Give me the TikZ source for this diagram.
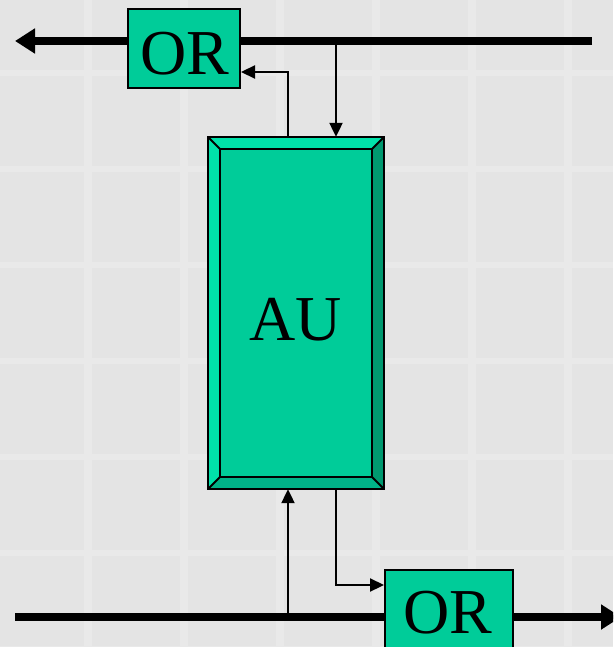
\documentclass[tikz,border=0pt]{standalone}
\usepackage{fontspec}
\setmainfont{Liberation Serif}
\usetikzlibrary{arrows.meta}
\definecolor{bg}{HTML}{E4E4E4}
\definecolor{tile}{HTML}{E9E9E9}
\definecolor{teal}{HTML}{00CC99}
\definecolor{tealL}{HTML}{00E2AA}
\definecolor{tealD}{HTML}{009970}
\definecolor{tealM}{HTML}{00B388}
\tikzset{
  orbox/.style={draw=black, line width=2pt, fill=teal, inner sep=0pt},
  lbl/.style={font=\fontsize{64}{64}\selectfont, inner sep=0pt, anchor=base},
  bus/.style={line width=8pt},
  busarrow/.style={line width=8pt, -{Triangle[length=20pt,width=24pt]}},
  sig/.style={line width=2.2pt, -{Triangle[length=14pt,width=13pt]}},
  bevel/.style={draw=black, line width=1.8pt, line join=miter}
}
\begin{document}
\begin{tikzpicture}[x=1pt,y=-1pt]
\useasboundingbox (0,0) rectangle (613,647);
\clip (0,0) rectangle (613,647);
\fill[bg] (0,0) rectangle (613,647);
\foreach \i in {0,...,6} {
  \fill[tile] (\i*96+84,0) rectangle (\i*96+92,647);
  \fill[tile] (0,\i*96+70) rectangle (613,\i*96+76);
}
% boxes
\node[orbox, minimum width=112pt, minimum height=79pt] (or1) at (184,48.5) {};
\node[lbl] (or1t) at (185,75) {OR};
\node[orbox, minimum width=128pt, minimum height=90pt, anchor=north west] (or2) at (384,569) {};
\node[lbl] (or2t) at (448,633) {OR};
\node[inner sep=0pt, minimum width=176pt, minimum height=352pt] (au) at (296,313) {};
% AU bevel box
\fill[tealL] (au.north west) -- (au.north east) -- ([shift={(-12,12)}]au.north east) -- ([shift={(12,12)}]au.north west) -- cycle;
\fill[tealL] (au.north west) -- ([shift={(12,12)}]au.north west) -- ([shift={(12,-12)}]au.south west) -- (au.south west) -- cycle;
\fill[tealD] (au.north east) -- (au.south east) -- ([shift={(-12,-12)}]au.south east) -- ([shift={(-12,12)}]au.north east) -- cycle;
\fill[tealM] (au.south west) -- ([shift={(12,-12)}]au.south west) -- ([shift={(-12,-12)}]au.south east) -- (au.south east) -- cycle;
\fill[teal] ([shift={(12,12)}]au.north west) rectangle ([shift={(-12,-12)}]au.south east);
\draw[bevel] (au.north west) rectangle (au.south east);
\draw[bevel] ([shift={(12,12)}]au.north west) rectangle ([shift={(-12,-12)}]au.south east);
\draw[bevel] (au.north west) -- ([shift={(12,12)}]au.north west);
\draw[bevel] (au.north east) -- ([shift={(-12,12)}]au.north east);
\draw[bevel] (au.south west) -- ([shift={(12,-12)}]au.south west);
\draw[bevel] (au.south east) -- ([shift={(-12,-12)}]au.south east);
\node[lbl] (aut) at (296,340) {AU};
% top bus
\coordinate (tr) at (592,41);
\coordinate (tl) at (15,41);
\coordinate (j1) at (336,41);
\draw[bus] (tr) -- (tr -| or1.east);
\draw[busarrow] (tl -| or1.west) -- (tl);
\draw[sig] (j1) -- (j1 |- au.north);
\coordinate (u1) at (288,72);
\draw[sig] (u1 |- au.north) -- (u1) -- (u1 -| or1.east);
% bottom bus
\coordinate (bl) at (15,617);
\coordinate (br) at (621,617);
\coordinate (j2) at (288,617);
\draw[bus] (bl) -- (bl -| or2.west);
\draw[busarrow] (br -| or2.east) -- (br);
\draw[sig] (j2) -- (j2 |- au.south);
\coordinate (d1) at (336,585);
\draw[sig] (d1 |- au.south) -- (d1) -- (d1 -| or2.west);
\end{tikzpicture}
\end{document}
